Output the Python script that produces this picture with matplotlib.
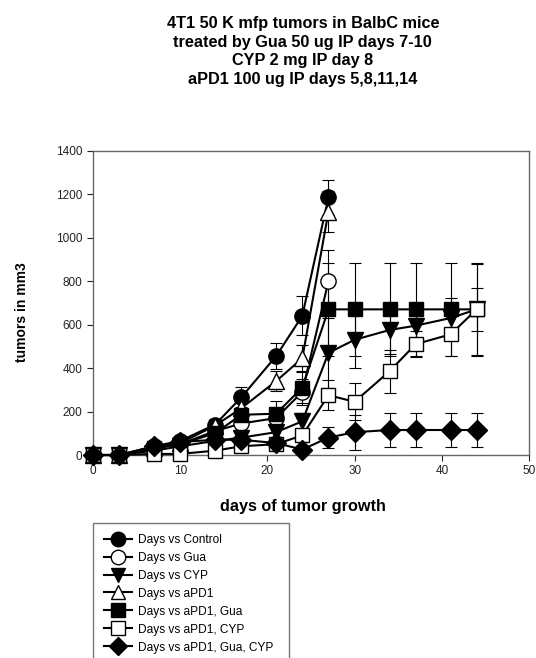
import matplotlib
matplotlib.use("Agg")
import matplotlib.pyplot as plt

plt.rcParams['font.family'] = ['Liberation Sans', 'DejaVu Sans']

# days of measurement
days_short = [0, 3, 7, 10, 14, 17, 21, 24, 27]
days_long = [0, 3, 7, 10, 14, 17, 21, 24, 27, 30, 34, 37, 41, 44]

# tumor volumes (mm3) and error bars
control = [0, 0, 40, 65, 140, 265, 455, 640, 1185]
control_err = [0, 0, 10, 15, 25, 50, 60, 90, 80]
gua = [0, 0, 30, 50, 110, 145, 170, 290, 800]
gua_err = [0, 0, 8, 12, 25, 30, 40, 60, 145]
cyp = [0, 0, 20, 40, 65, 80, 105, 155, 470, 530, 575, 595, 630, 670]
cyp_err = [0, 0, 5, 10, 15, 20, 25, 40, 160, 130, 110, 100, 90, 100]
apd1 = [0, 0, 30, 55, 135, 215, 340, 445, 1120]
apd1_err = [0, 0, 8, 12, 25, 40, 45, 60, 95]
apd1_gua = [0, 0, 30, 50, 100, 185, 190, 310, 670, 670, 670, 670, 670, 670]
apd1_gua_err = [0, 0, 8, 10, 20, 35, 60, 70, 215, 215, 215, 215, 215, 215]
apd1_cyp = [0, 0, 5, 5, 20, 40, 50, 90, 275, 245, 385, 510, 555, 670]
apd1_cyp_err = [0, 0, 3, 5, 8, 12, 15, 25, 70, 85, 100, 60, 100, 210]
triple = [0, 0, 40, 60, 70, 70, 55, 25, 80, 105, 115, 115, 115, 115]
triple_err = [0, 0, 10, 12, 15, 15, 15, 10, 50, 80, 80, 80, 80, 80]

series = [
    ("Days vs Control", days_short, control, control_err, "o", "black", 11),
    ("Days vs Gua", days_short, gua, gua_err, "o", "white", 11),
    ("Days vs CYP", days_long, cyp, cyp_err, "v", "black", 11),
    ("Days vs aPD1", days_short, apd1, apd1_err, "^", "white", 11),
    ("Days vs aPD1, Gua", days_long, apd1_gua, apd1_gua_err, "s", "black", 10),
    ("Days vs aPD1, CYP", days_long, apd1_cyp, apd1_cyp_err, "s", "white", 10),
    ("Days vs aPD1, Gua, CYP", days_long, triple, triple_err, "D", "black", 10),
]

fig = plt.figure(figsize=(5.36, 6.58), dpi=100)
ax = fig.add_axes([0.1735, 0.3085, 0.8135, 0.4625])

handles = []
for label, x, y, err, marker, face, ms in series:
    ax.errorbar(x, y, yerr=err, fmt="none", ecolor="black", elinewidth=0.8,
                capsize=4, capthick=0.8, zorder=2)
    h, = ax.plot(x, y, color="black", linewidth=1.5, marker=marker,
                 markerfacecolor=face, markeredgecolor="black",
                 markeredgewidth=1.0, markersize=ms, label=label, zorder=3)
    handles.append(h)

ax.set_xlim(0, 50)
ax.set_ylim(0, 1400)
ax.set_xticks([0, 10, 20, 30, 40, 50])
ax.set_yticks(range(0, 1401, 200))
ax.tick_params(direction="out", length=4, width=0.8, labelsize=8.5, colors="#222222")
for sp in ax.spines.values():
    sp.set_color("#666666")
    sp.set_linewidth(1.0)
for line in ax.lines:
    line.set_clip_on(False)

ax.set_xlabel("days of tumor growth", fontsize=11.7, fontweight="bold")
ax.xaxis.set_label_coords(0.4817, -0.1446)
ax.set_ylabel("tumors in mm3", fontsize=10, fontweight="bold")
ax.yaxis.set_label_coords(-0.147, 0.47)

fig.text(0.565, 0.975, "4T1 50 K mfp tumors in BalbC mice\n"
         "treated by Gua 50 ug IP days 7-10\n"
         "CYP 2 mg IP day 8\n"
         "aPD1 100 ug IP days 5,8,11,14",
         ha="center", va="top", fontsize=11.7, fontweight="bold",
         linespacing=1.28)

leg = fig.legend(handles=handles, loc="upper left",
                 bbox_to_anchor=(93 / 536, 1 - 523 / 658, 196 / 536, 0.0),
                 mode="expand", borderaxespad=0, fontsize=8.6, markerscale=0.95,
                 handlelength=2.4, handletextpad=0.5, labelspacing=0.5,
                 borderpad=0.9, fancybox=False,
                 edgecolor="#777777", framealpha=1)
leg.get_frame().set_linewidth(1.0)

fig.savefig("out.png", dpi=100)
